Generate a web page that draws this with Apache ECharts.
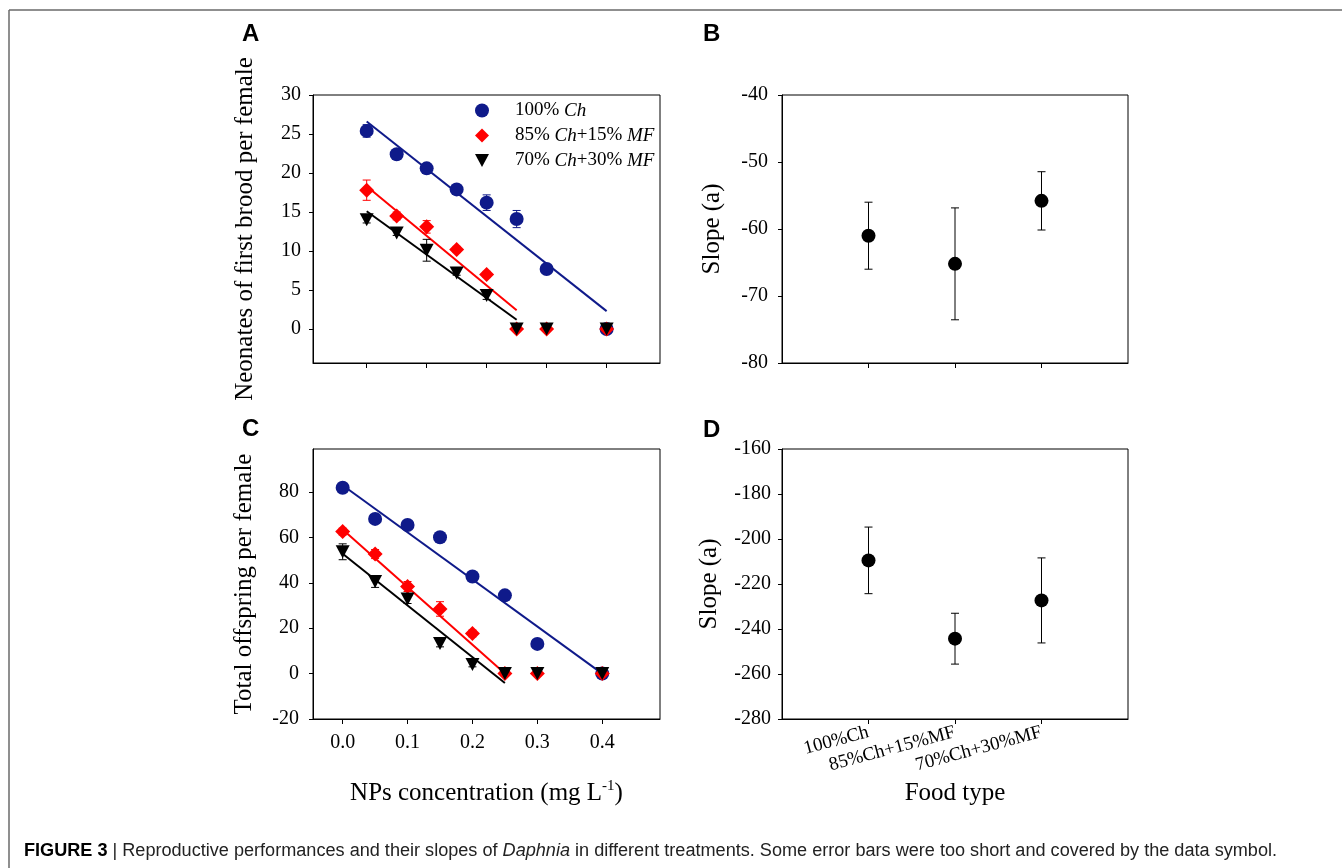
<!DOCTYPE html>
<html>
<head>
<meta charset="utf-8">
<script src="https://cdn.jsdelivr.net/npm/echarts@6/dist/echarts.min.js"></script>
<style>html,body{margin:0;padding:0;background:#fff;}#chart{width:1342px;height:868px;}</style>
</head>
<body>
<div id="chart"></div>
<script>
// ---------- data ----------
const conc = [0, 0.05, 0.1, 0.15, 0.2, 0.25, 0.3, 0.4];
const seriesNames = ['100% Ch', '85% Ch+15% MF', '70% Ch+30% MF'];

// Panel A: neonates of first brood per female
const brood100 = [25.4, 22.4, 20.6, 17.9, 16.2, 14.1, 7.7, 0];
const brood85  = [17.8, 14.5, 13.1, 10.2, 7.0, 0, 0, 0];
const brood70  = [14.0, 12.3, 10.1, 7.2, 4.3, 0, 0, 0];
const broodErr100 = [0.8, 0.4, 0.4, 0.4, 1.0, 1.1, 0.3, 0];
const broodErr85  = [1.3, 0.5, 0.8, 0.4, 0.4, 0, 0, 0];
const broodErr70  = [0.4, 0.3, 1.4, 0.3, 0.5, 0, 0, 0];
const fitA100 = [[0, 26.6], [0.4, 2.3]];
const fitA85  = [[0, 18.3], [0.25, 2.4]];
const fitA70  = [[0, 15.1], [0.25, 1.2]];

// Panel C: total offspring per female
const total100 = [81.9, 68.2, 65.5, 60.1, 42.8, 34.5, 13.1, 0];
const total85  = [62.6, 52.7, 38.4, 28.5, 17.7, 0, 0, 0];
const total70  = [53.7, 40.6, 32.9, 13.3, 4.0, 0, 0, 0];
const totalErr100 = [2.0, 1.0, 1.0, 1.0, 1.0, 1.0, 1.0, 0];
const totalErr85  = [1.5, 2.0, 2.2, 3.2, 1.5, 0, 0, 0];
const totalErr70  = [3.5, 2.6, 2.0, 1.5, 1.0, 0, 0, 0];
const fitC100 = [[0, 83.0], [0.4, 0]];
const fitC85  = [[0, 63.5], [0.25, 0]];
const fitC70  = [[0, 52.8], [0.25, -4.1]];

// Panels B and D: slopes by food type (positions 1, 2, 3)
const foodTypes = ['100%Ch', '85%Ch+15%MF', '70%Ch+30%MF'];
const foodPos = [1, 2, 3];
const slopeB = [-61.0, -65.2, -55.8];
const slopeErrB = [5.0, 8.35, 4.35];
const slopeD = [-209.5, -244.3, -227.3];
const slopeErrD = [14.8, 11.3, 18.9];

// tick labels
const xTicks = [0, 0.1, 0.2, 0.3, 0.4];
const yTicksA = [0, 5, 10, 15, 20, 25, 30];
const yTicksC = [-20, 0, 20, 40, 60, 80];

// ---------- styles ----------
const BLUE = '#0f1a8a', RED = '#ff0000', BLACK = '#000000';
const SERIF = 'Liberation Serif';
const colors = [BLUE, RED, BLACK];
const symbols = ['circle', 'diamond', 'triangle'];
const symSizes = [14, [15, 15], [14, 13]];
const symRot = [0, 0, 180];

const chart = echarts.init(document.getElementById('chart'), null, {renderer: 'canvas'});

function pairs(xs, ys) { return xs.map((x, i) => [x, ys[i]]); }
function triples(xs, ys, es) { return xs.map((x, i) => [x, ys[i], es[i]]); }

function errSeries(data, color, xi, yi, capHalf) {
  return {
    type: 'custom', xAxisIndex: xi, yAxisIndex: yi, z: 3, silent: true,
    renderItem: function (params, api) {
      const x = api.value(0), y = api.value(1), e = api.value(2);
      if (!e) return null;
      const t = api.coord([x, y + e]), b = api.coord([x, y - e]);
      const st = {stroke: color, lineWidth: 1};
      return {type: 'group', children: [
        {type: 'line', shape: {x1: t[0], y1: t[1], x2: b[0], y2: b[1]}, style: st},
        {type: 'line', shape: {x1: t[0] - capHalf, y1: t[1], x2: t[0] + capHalf, y2: t[1]}, style: st},
        {type: 'line', shape: {x1: b[0] - capHalf, y1: b[1], x2: b[0] + capHalf, y2: b[1]}, style: st}
      ]};
    },
    encode: {x: 0, y: 1},
    data: data
  };
}
function fitSeries(data, color, xi, yi) {
  return {type: 'line', xAxisIndex: xi, yAxisIndex: yi, data: data, symbol: 'none', silent: true,
    lineStyle: {color: color, width: 2}, z: 2, animation: false};
}
function scatterSeries(name, data, k, xi, yi) {
  return {type: 'scatter', name: name, xAxisIndex: xi, yAxisIndex: yi, data: data,
    symbol: symbols[k], symbolSize: symSizes[k], symbolRotate: symRot[k],
    itemStyle: {color: colors[k], opacity: 1}, z: 4 + k, animation: false};
}

const axisLineStyle = {show: true, onZero: false, lineStyle: {color: '#000', width: 1}};
const nameStyle = {fontFamily: SERIF, fontSize: 25, color: '#000'};
const labelBase = {fontFamily: SERIF, fontSize: 20, color: '#000'};

const grids = [
  {left: 313, top: 95, width: 347, height: 268},
  {left: 782, top: 95, width: 346, height: 268},
  {left: 313, top: 449, width: 347, height: 270},
  {left: 782, top: 449, width: 346, height: 270}
].map(g => Object.assign(g, {show: true, borderColor: '#000', borderWidth: 1, backgroundColor: 'transparent'}));

const xAxes = [
  {gridIndex: 0, type: 'value', min: -0.0895, max: 0.489, splitLine: {show: false}, axisLine: axisLineStyle,
    axisTick: {show: true, length: 5, customValues: xTicks, lineStyle: {color: '#000'}}, axisLabel: {show: false}},
  {gridIndex: 1, type: 'value', min: 0, max: 4, splitLine: {show: false}, axisLine: axisLineStyle,
    axisTick: {show: true, length: 5, customValues: foodPos, lineStyle: {color: '#000'}}, axisLabel: {show: false}},
  {gridIndex: 2, type: 'value', min: -0.0457, max: 0.489, splitLine: {show: false}, axisLine: axisLineStyle,
    axisTick: {show: true, length: 5, customValues: xTicks, lineStyle: {color: '#000'}},
    axisLabel: Object.assign({customValues: xTicks, margin: 14, formatter: v => v.toFixed(1)}, labelBase),
    name: 'NPs concentration (mg L{sup|-1})', nameLocation: 'middle', nameGap: 60,
    nameTextStyle: Object.assign({rich: {sup: {fontFamily: SERIF, fontSize: 15, verticalAlign: 'top', padding: [0, 0, 13, 0]}}}, nameStyle)},
  {gridIndex: 3, type: 'value', min: 0, max: 4, splitLine: {show: false}, axisLine: axisLineStyle,
    axisTick: {show: true, length: 5, customValues: foodPos, lineStyle: {color: '#000'}},
    axisLabel: Object.assign({}, labelBase, {customValues: foodPos, fontSize: 19, rotate: 15, margin: 13,
      formatter: v => foodTypes[Math.round(v) - 1] || ''}),
    name: 'Food type', nameLocation: 'middle', nameGap: 62, nameTextStyle: nameStyle}
];

const yAxes = [
  {gridIndex: 0, type: 'value', min: -4.35, max: 30, splitLine: {show: false}, axisLine: axisLineStyle,
    axisTick: {show: true, length: 4, customValues: yTicksA, lineStyle: {color: '#000'}},
    axisLabel: Object.assign({customValues: yTicksA, margin: 12}, labelBase),
    name: 'Neonates of first brood per female', nameLocation: 'middle', nameGap: 55, nameTextStyle: nameStyle},
  {gridIndex: 1, type: 'value', min: -80, max: -40, interval: 10, splitLine: {show: false}, axisLine: axisLineStyle,
    axisTick: {show: true, length: 4, lineStyle: {color: '#000'}},
    axisLabel: Object.assign({margin: 14}, labelBase),
    name: 'Slope (a)', nameLocation: 'middle', nameGap: 57, nameTextStyle: nameStyle},
  {gridIndex: 2, type: 'value', min: -20, max: 99, splitLine: {show: false}, axisLine: axisLineStyle,
    axisTick: {show: true, length: 4, customValues: yTicksC, lineStyle: {color: '#000'}},
    axisLabel: Object.assign({customValues: yTicksC, margin: 14}, labelBase),
    name: 'Total offspring per female', nameLocation: 'middle', nameGap: 56, nameTextStyle: nameStyle},
  {gridIndex: 3, type: 'value', min: -280, max: -160, interval: 20, splitLine: {show: false}, axisLine: axisLineStyle,
    axisTick: {show: true, length: 4, lineStyle: {color: '#000'}},
    axisLabel: Object.assign({margin: 11}, labelBase),
    name: 'Slope (a)', nameLocation: 'middle', nameGap: 60, nameTextStyle: nameStyle}
];

const broodVals = [brood100, brood85, brood70];
const broodErrs = [broodErr100, broodErr85, broodErr70];
const fitsA = [fitA100, fitA85, fitA70];
const totalVals = [total100, total85, total70];
const totalErrs = [totalErr100, totalErr85, totalErr70];
const fitsC = [fitC100, fitC85, fitC70];

const series = [];
for (let k = 0; k < 3; k++) {
  series.push(fitSeries(fitsA[k], colors[k], 0, 0));
  series.push(fitSeries(fitsC[k], colors[k], 2, 2));
}
for (let k = 0; k < 3; k++) {
  series.push(errSeries(triples(conc, broodVals[k], broodErrs[k]), colors[k], 0, 0, 4));
  series.push(errSeries(triples(conc, totalVals[k], totalErrs[k]), colors[k], 2, 2, 4));
}
for (let k = 0; k < 3; k++) {
  series.push(scatterSeries(seriesNames[k], pairs(conc, broodVals[k]), k, 0, 0));
  series.push(scatterSeries(seriesNames[k], pairs(conc, totalVals[k]), k, 2, 2));
}
series.push(errSeries(triples(foodPos, slopeB, slopeErrB), '#000', 1, 1, 4));
series.push(errSeries(triples(foodPos, slopeD, slopeErrD), '#000', 3, 3, 4));
series.push({type: 'scatter', name: 'slopeB', xAxisIndex: 1, yAxisIndex: 1, data: pairs(foodPos, slopeB), symbol: 'circle', symbolSize: 14,
  itemStyle: {color: '#000', opacity: 1}, z: 5, animation: false});
series.push({type: 'scatter', name: 'slopeD', xAxisIndex: 3, yAxisIndex: 3, data: pairs(foodPos, slopeD), symbol: 'circle', symbolSize: 14,
  itemStyle: {color: '#000', opacity: 1}, z: 5, animation: false});

// caption segments
const capParts = [
  {t: 'FIGURE 3', s: 'b'}, {t: ' | ', s: 'n'},
  {t: 'Reproductive performances and their slopes of ', s: 'n'}, {t: 'Daphnia', s: 'i'},
  {t: ' in different treatments. Some error bars were too short and covered by the data symbol.', s: 'n'}
];
const CAPFONT = 18, CAPFAM = 'Liberation Sans';
const ctx = document.createElement('canvas').getContext('2d');
let capW = 0;
capParts.forEach(p => {
  ctx.font = (p.s === 'b' ? 'bold ' : p.s === 'i' ? 'italic ' : '') + CAPFONT + 'px "' + CAPFAM + '"';
  capW += ctx.measureText(p.t).width;
});
const capScale = 1253 / capW;
const capText = capParts.map(p => '{' + p.s + '|' + p.t + '}').join('');

function panelLetter(txt, x, y) {
  return {type: 'text', left: x, top: y - 14, style: {text: txt, fontFamily: 'Liberation Sans', fontWeight: 'bold', fontSize: 24, fill: '#000'}};
}

const option = {
  backgroundColor: '#fff',
  animation: false,
  grid: grids,
  xAxis: xAxes,
  yAxis: yAxes,
  legend: {
    data: [
      {name: seriesNames[0], icon: 'circle'},
      {name: seriesNames[1], icon: 'path://M8,0L16,8L8,16L0,8Z'},
      {name: seriesNames[2], icon: 'path://M0,0L14,0L7,13Z'}
    ],
    orient: 'vertical', left: 470, top: 96, itemWidth: 14, itemHeight: 14, itemGap: 6,
    selectedMode: false,
    formatter: name => name.replace(/(Ch|MF)/g, '{i|$1}'),
    textStyle: {fontFamily: SERIF, fontSize: 19, color: '#000', lineHeight: 14, padding: [0, 0, 0, 21],
      rich: {i: {fontFamily: SERIF, fontSize: 19, fontStyle: 'italic', color: '#000', lineHeight: 14}}}
  },
  graphic: [
    {type: 'line', shape: {x1: 9, y1: 10, x2: 1342, y2: 10}, style: {stroke: '#6a6a6a', lineWidth: 1.5}},
    {type: 'line', shape: {x1: 9, y1: 10, x2: 9, y2: 868}, style: {stroke: '#6a6a6a', lineWidth: 1.5}},
    panelLetter('A', 242, 36),
    panelLetter('B', 703, 36),
    panelLetter('C', 242, 431),
    panelLetter('D', 703, 432),
    {type: 'text', x: 24, y: 851, scaleX: capScale, scaleY: 1,
      style: {text: capText, fill: '#111', fontFamily: CAPFAM, fontSize: CAPFONT, verticalAlign: 'middle',
        rich: {
          b: {fontFamily: CAPFAM, fontSize: CAPFONT, fontWeight: 'bold', fill: '#000'},
          n: {fontFamily: CAPFAM, fontSize: CAPFONT, fill: '#222'},
          i: {fontFamily: CAPFAM, fontSize: CAPFONT, fontStyle: 'italic', fill: '#222'}
        }}}
  ],
  series: series
};
chart.setOption(option);
</script>
</body>
</html>
